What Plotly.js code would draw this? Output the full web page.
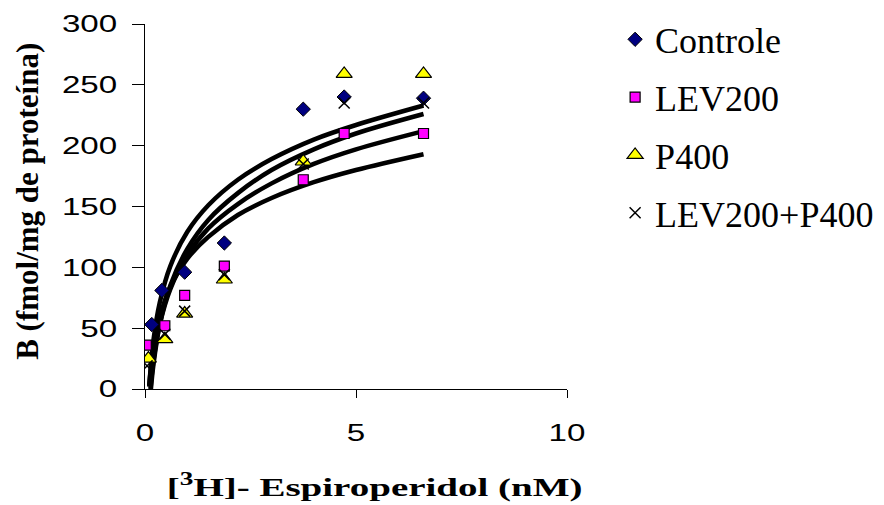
<!DOCTYPE html>
<html>
<head>
<meta charset="utf-8">
<script src="https://cdn.plot.ly/plotly-3.0.1.min.js"></script>
<style>
  html, body { margin: 0; padding: 0; background: #ffffff; }
  #chart { width: 884px; height: 505px; }
</style>
</head>
<body>
<div id="chart"></div>
<script>
// ---- Data ----
const seriesNames = ["Controle", "LEV200", "P400", "LEV200+P400"];

const controleX = [0.16, 0.40, 0.94, 1.88, 3.75, 4.72, 6.60];
const controleY = [53, 81, 96, 120, 230, 240, 239];

const lev200X = [0.03, 0.47, 0.94, 1.88, 3.75, 4.72, 6.60];
const lev200Y = [36, 52, 77, 101, 172, 210, 210];

const p400X = [0.08, 0.47, 0.94, 1.88, 3.75, 4.72, 6.60];
const p400Y = [25, 41, 62, 90, 187, 259, 259];

const comboX = [0.05, 0.47, 0.94, 1.88, 3.75, 4.72, 6.60];
const comboY = [19, 45, 64, 94, 185, 235, 235];

// Fitted curves as they appear in the picture
const curve1X = [0.10, 0.20, 0.35, 0.60, 1.00, 1.50, 2.20, 3.00, 4.00, 5.00, 6.60];
const curve1Y = [2, 40, 71, 101, 129, 151, 172, 189, 205, 217, 233];

const curve2X = [0.14, 0.20, 0.35, 0.60, 1.00, 1.50, 2.20, 3.00, 4.00, 5.00, 6.60];
const curve2Y = [0, 20, 53, 85, 115, 139, 161, 180, 197, 210, 226];

const curve3X = [0.13, 0.20, 0.35, 0.60, 1.00, 1.50, 2.20, 3.00, 4.00, 5.00, 6.60];
const curve3Y = [0, 23, 53, 82, 110, 132, 152, 169, 185, 197, 212];

const curve4X = [0.10, 0.20, 0.35, 0.60, 1.00, 1.50, 2.20, 3.00, 4.00, 5.00, 6.60];
const curve4Y = [3, 34, 59, 84, 107, 125, 143, 157, 170, 180, 193];

const xTickVals = [0, 5, 10];
const yTickVals = [0, 50, 100, 150, 200, 250, 300];

// ---- Traces ----
function curve(x, y) {
  return {
    x: x, y: y, type: "scatter", mode: "lines",
    line: { color: "#000000", width: 4.5, shape: "spline", smoothing: 1 },
    showlegend: false, hoverinfo: "skip"
  };
}

const traces = [
  curve(curve1X, curve1Y),
  curve(curve2X, curve2Y),
  curve(curve3X, curve3Y),
  curve(curve4X, curve4Y),
  {
    x: controleX, y: controleY, name: seriesNames[0], legendgroup: "a",
    type: "scatter", mode: "markers",
    marker: { symbol: "diamond", size: 11, color: "#000080", line: { color: "#000000", width: 1 } }
  },
  {
    x: lev200X, y: lev200Y, name: seriesNames[1], legendgroup: "b",
    type: "scatter", mode: "markers",
    marker: { symbol: "square", size: 10, color: "#FF00FF", line: { color: "#000000", width: 1.2 } }
  },
  {
    x: p400X, y: p400Y, name: seriesNames[2], legendgroup: "c",
    type: "scatter", mode: "markers",
    marker: { symbol: "triangle-up", size: 14, color: "#FFFF00", line: { color: "#000000", width: 1.2 } }
  },
  {
    x: comboX, y: comboY, name: seriesNames[3], legendgroup: "d",
    type: "scatter", mode: "markers",
    marker: { symbol: "x-thin-open", size: 11, color: "#000000", line: { color: "#000000", width: 1.5 } }
  }
];

const layout = {
  width: 884, height: 505,
  paper_bgcolor: "#ffffff", plot_bgcolor: "#ffffff",
  margin: { l: 145, r: 317, t: 24, b: 116, pad: 0, autoexpand: false },
  showlegend: true,
  legend: {
    x: 1.114, xanchor: "left", y: 1.04, yanchor: "top",
    font: { family: "Liberation Serif, Times New Roman, serif", size: 36, color: "#000000" },
    traceorder: "grouped", tracegroupgap: 8,
    bgcolor: "rgba(0,0,0,0)", borderwidth: 0
  },
  xaxis: {
    range: [0, 10], tickvals: xTickVals, ticktext: xTickVals.map(String),
    showgrid: false, zeroline: false, showline: true, linecolor: "#000000", linewidth: 1,
    ticks: "outside", ticklen: 8, tickcolor: "#000000", tickwidth: 1,
    ticklabelstandoff: 14,
    tickfont: { family: "Liberation Sans, Arial, sans-serif", size: 24, color: "#000000" }
  },
  yaxis: {
    range: [0, 300], tickvals: yTickVals, ticktext: yTickVals.map(String),
    showgrid: false, zeroline: false, showline: true, linecolor: "#000000", linewidth: 1,
    ticks: "outside", ticklen: 12, tickcolor: "#000000", tickwidth: 1,
    ticklabelstandoff: 10,
    tickfont: { family: "Liberation Sans, Arial, sans-serif", size: 24, color: "#000000" }
  },
  annotations: [
    {
      text: "<b>[<sup>3</sup>H]- Espiroperidol (nM)</b>",
      xref: "paper", yref: "paper", x: 0.545, y: -0.264,
      xanchor: "center", yanchor: "middle", showarrow: false,
      font: { family: "Liberation Serif, Times New Roman, serif", size: 26, color: "#000000" }
    },
    {
      text: "<b>B (fmol/mg de proteína)</b>",
      xref: "paper", yref: "paper", x: -0.28, y: 0.515, textangle: -90,
      xanchor: "center", yanchor: "middle", showarrow: false,
      font: { family: "Liberation Serif, Times New Roman, serif", size: 31, color: "#000000" }
    }
  ]
};

// The reference's axis labels are drawn horizontally wider than normal;
// widen the text glyphs in place around their anchor point.
function widen(nodes, s) {
  nodes.forEach(function (t) {
    const x = parseFloat(t.getAttribute("x")) || 0;
    const tr = t.getAttribute("transform") || "";
    t.setAttribute("transform", tr + " translate(" + x + ",0) scale(" + s + ",1) translate(" + (-x) + ",0)");
  });
}

Plotly.newPlot("chart", traces, layout, { staticPlot: true, displayModeBar: false }).then(function (gd) {
  widen(gd.querySelectorAll(".xtick text, .ytick text"), 1.38);
  const ann = gd.querySelectorAll(".annotation-text");
  if (ann.length) widen([ann[0]], 1.5);
});
</script>
</body>
</html>
